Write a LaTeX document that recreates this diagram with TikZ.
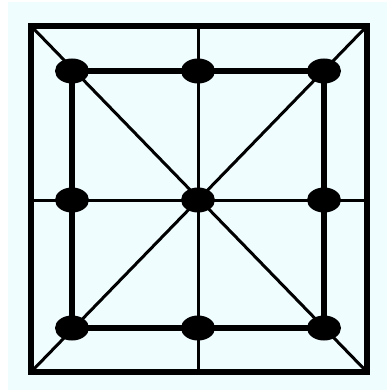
\documentclass[tikz,border=0pt]{standalone}
\usetikzlibrary{shapes.geometric}
\definecolor{bgcyan}{RGB}{240,253,255}
\tikzset{
  outerline/.style={line width=5.5pt, line join=miter},
  innerline/.style={line width=5.5pt, line join=miter},
  thinline/.style={line width=3pt},
  dotnode/.style={ellipse, fill=black, minimum width=34pt, minimum height=25pt, inner sep=0pt},
}
\begin{document}
\begin{tikzpicture}[x=1pt,y=-1pt]
\useasboundingbox (0,0) rectangle (387,390);
\fill[bgcyan] (8,2) rectangle (387,390);
% outer corners and midpoints
\coordinate (OTL) at (31,26);
\coordinate (OTR) at (367,26);
\coordinate (OBR) at (367,372);
\coordinate (OBL) at (31,372);
\coordinate (OT) at (198,26);
\coordinate (OB) at (198,372);
\coordinate (OL) at (31,200);
\coordinate (OR) at (367,200);
% dot positions
\coordinate (p11) at (72,71);
\coordinate (p12) at (198,71);
\coordinate (p13) at (324,71);
\coordinate (p21) at (72,200);
\coordinate (p22) at (198,200);
\coordinate (p23) at (324,200);
\coordinate (p31) at (72,328);
\coordinate (p32) at (198,328);
\coordinate (p33) at (324,328);
% thin lines
\draw[thinline] (OTL) -- (OBR);
\draw[thinline] (OTR) -- (OBL);
\draw[thinline] (OT) -- (OB);
\draw[thinline] (OL) -- (OR);
% outer square
\draw[outerline] (OTL) -- (OTR) -- (OBR) -- (OBL) -- cycle;
% inner square
\draw[innerline] (p11) -- (p13) -- (p33) -- (p31) -- cycle;
% dots
\foreach \p in {11,12,13,21,22,23,31,32,33}
  \node[dotnode] (d\p) at (p\p) {};
\end{tikzpicture}
\end{document}
